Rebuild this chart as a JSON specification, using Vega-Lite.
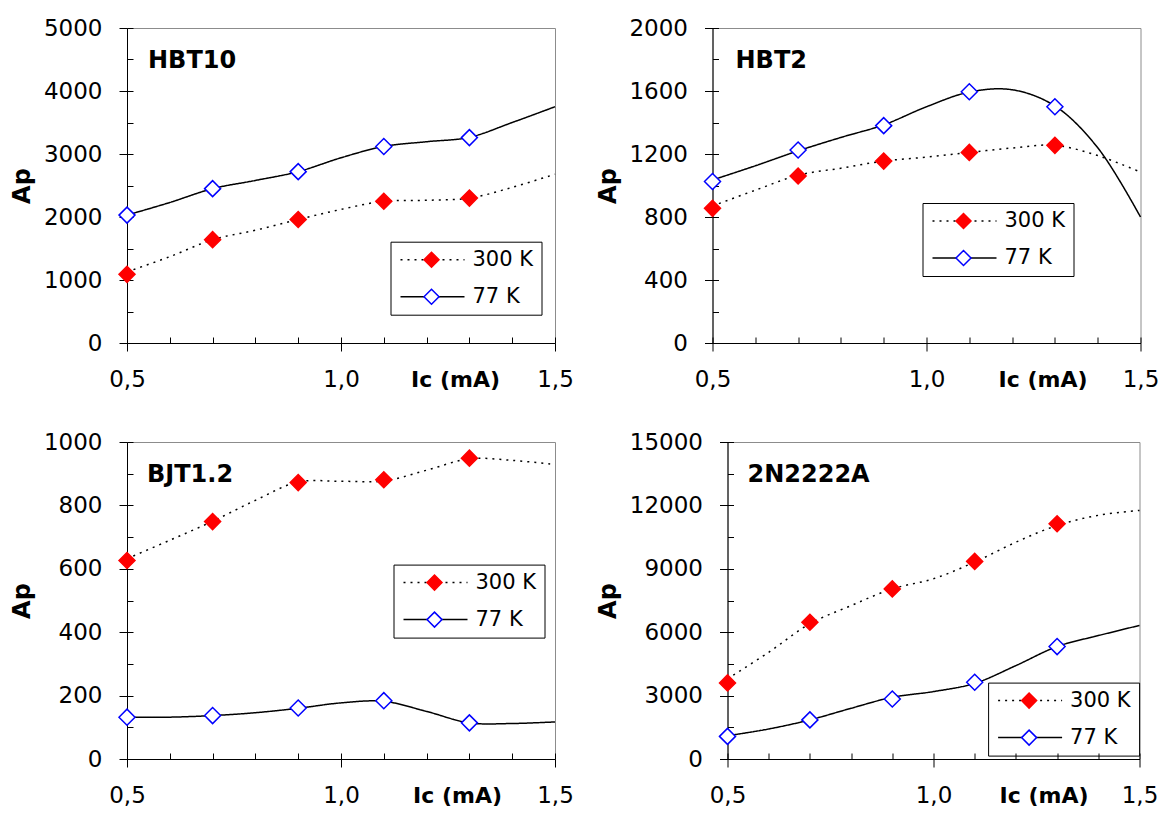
{
  "$schema": "https://vega.github.io/schema/vega-lite/v6.json",
  "background": "white",
  "padding": {"left": 10, "top": 16, "right": 5, "bottom": 5},
  "datasets": {
    "curves": [
      {"p":"HBT10","curve":"300 K","Ic":0.5,"Ap":1130},{"p":"HBT10","curve":"300 K","Ic":0.6,"Ap":1370},{"p":"HBT10","curve":"300 K","Ic":0.7,"Ap":1640},{"p":"HBT10","curve":"300 K","Ic":0.8,"Ap":1790},{"p":"HBT10","curve":"300 K","Ic":0.9,"Ap":1960},{"p":"HBT10","curve":"300 K","Ic":1.0,"Ap":2120},{"p":"HBT10","curve":"300 K","Ic":1.1,"Ap":2250},{"p":"HBT10","curve":"300 K","Ic":1.2,"Ap":2265},{"p":"HBT10","curve":"300 K","Ic":1.3,"Ap":2300},{"p":"HBT10","curve":"300 K","Ic":1.4,"Ap":2470},{"p":"HBT10","curve":"300 K","Ic":1.5,"Ap":2680},
      {"p":"HBT10","curve":"77 K","Ic":0.5,"Ap":2030},{"p":"HBT10","curve":"77 K","Ic":0.6,"Ap":2230},{"p":"HBT10","curve":"77 K","Ic":0.7,"Ap":2450},{"p":"HBT10","curve":"77 K","Ic":0.8,"Ap":2580},{"p":"HBT10","curve":"77 K","Ic":0.9,"Ap":2720},{"p":"HBT10","curve":"77 K","Ic":1.0,"Ap":2940},{"p":"HBT10","curve":"77 K","Ic":1.1,"Ap":3120},{"p":"HBT10","curve":"77 K","Ic":1.2,"Ap":3195},{"p":"HBT10","curve":"77 K","Ic":1.3,"Ap":3265},{"p":"HBT10","curve":"77 K","Ic":1.4,"Ap":3500},{"p":"HBT10","curve":"77 K","Ic":1.5,"Ap":3750},
      {"p":"HBT2","curve":"300 K","Ic":0.5,"Ap":870},{"p":"HBT2","curve":"300 K","Ic":0.6,"Ap":970},{"p":"HBT2","curve":"300 K","Ic":0.7,"Ap":1065},{"p":"HBT2","curve":"300 K","Ic":0.8,"Ap":1110},{"p":"HBT2","curve":"300 K","Ic":0.9,"Ap":1155},{"p":"HBT2","curve":"300 K","Ic":1.0,"Ap":1180},{"p":"HBT2","curve":"300 K","Ic":1.1,"Ap":1210},{"p":"HBT2","curve":"300 K","Ic":1.2,"Ap":1238},{"p":"HBT2","curve":"300 K","Ic":1.3,"Ap":1255},{"p":"HBT2","curve":"300 K","Ic":1.4,"Ap":1190},{"p":"HBT2","curve":"300 K","Ic":1.5,"Ap":1085},
      {"p":"HBT2","curve":"77 K","Ic":0.5,"Ap":1035},{"p":"HBT2","curve":"77 K","Ic":0.6,"Ap":1125},{"p":"HBT2","curve":"77 K","Ic":0.7,"Ap":1220},{"p":"HBT2","curve":"77 K","Ic":0.8,"Ap":1305},{"p":"HBT2","curve":"77 K","Ic":0.9,"Ap":1385},{"p":"HBT2","curve":"77 K","Ic":1.0,"Ap":1500},{"p":"HBT2","curve":"77 K","Ic":1.1,"Ap":1593},{"p":"HBT2","curve":"77 K","Ic":1.2,"Ap":1608},{"p":"HBT2","curve":"77 K","Ic":1.3,"Ap":1505},{"p":"HBT2","curve":"77 K","Ic":1.4,"Ap":1240},{"p":"HBT2","curve":"77 K","Ic":1.5,"Ap":800},
      {"p":"BJT1.2","curve":"300 K","Ic":0.5,"Ap":632},{"p":"BJT1.2","curve":"300 K","Ic":0.6,"Ap":690},{"p":"BJT1.2","curve":"300 K","Ic":0.7,"Ap":750},{"p":"BJT1.2","curve":"300 K","Ic":0.8,"Ap":816},{"p":"BJT1.2","curve":"300 K","Ic":0.9,"Ap":874},{"p":"BJT1.2","curve":"300 K","Ic":1.0,"Ap":876},{"p":"BJT1.2","curve":"300 K","Ic":1.1,"Ap":877},{"p":"BJT1.2","curve":"300 K","Ic":1.2,"Ap":911},{"p":"BJT1.2","curve":"300 K","Ic":1.3,"Ap":947},{"p":"BJT1.2","curve":"300 K","Ic":1.4,"Ap":942},{"p":"BJT1.2","curve":"300 K","Ic":1.5,"Ap":929},
      {"p":"BJT1.2","curve":"77 K","Ic":0.5,"Ap":132},{"p":"BJT1.2","curve":"77 K","Ic":0.6,"Ap":132},{"p":"BJT1.2","curve":"77 K","Ic":0.7,"Ap":137},{"p":"BJT1.2","curve":"77 K","Ic":0.8,"Ap":146},{"p":"BJT1.2","curve":"77 K","Ic":0.9,"Ap":160},{"p":"BJT1.2","curve":"77 K","Ic":1.0,"Ap":177},{"p":"BJT1.2","curve":"77 K","Ic":1.1,"Ap":182},{"p":"BJT1.2","curve":"77 K","Ic":1.2,"Ap":150},{"p":"BJT1.2","curve":"77 K","Ic":1.3,"Ap":114},{"p":"BJT1.2","curve":"77 K","Ic":1.4,"Ap":112},{"p":"BJT1.2","curve":"77 K","Ic":1.5,"Ap":117},
      {"p":"2N2222A","curve":"300 K","Ic":0.5,"Ap":3790},{"p":"2N2222A","curve":"300 K","Ic":0.6,"Ap":5050},{"p":"2N2222A","curve":"300 K","Ic":0.7,"Ap":6400},{"p":"2N2222A","curve":"300 K","Ic":0.8,"Ap":7260},{"p":"2N2222A","curve":"300 K","Ic":0.9,"Ap":8050},{"p":"2N2222A","curve":"300 K","Ic":1.0,"Ap":8530},{"p":"2N2222A","curve":"300 K","Ic":1.1,"Ap":9320},{"p":"2N2222A","curve":"300 K","Ic":1.2,"Ap":10260},{"p":"2N2222A","curve":"300 K","Ic":1.3,"Ap":11050},{"p":"2N2222A","curve":"300 K","Ic":1.4,"Ap":11530},{"p":"2N2222A","curve":"300 K","Ic":1.5,"Ap":11760},
      {"p":"2N2222A","curve":"77 K","Ic":0.5,"Ap":1100},{"p":"2N2222A","curve":"77 K","Ic":0.6,"Ap":1420},{"p":"2N2222A","curve":"77 K","Ic":0.7,"Ap":1850},{"p":"2N2222A","curve":"77 K","Ic":0.8,"Ap":2400},{"p":"2N2222A","curve":"77 K","Ic":0.9,"Ap":2920},{"p":"2N2222A","curve":"77 K","Ic":1.0,"Ap":3190},{"p":"2N2222A","curve":"77 K","Ic":1.1,"Ap":3580},{"p":"2N2222A","curve":"77 K","Ic":1.2,"Ap":4420},{"p":"2N2222A","curve":"77 K","Ic":1.3,"Ap":5320},{"p":"2N2222A","curve":"77 K","Ic":1.4,"Ap":5840},{"p":"2N2222A","curve":"77 K","Ic":1.5,"Ap":6320}
    ],
    "pts": [
      {"p":"HBT10","series":"300 K","Ic":0.5,"Ap":1090},{"p":"HBT10","series":"300 K","Ic":0.7,"Ap":1640},{"p":"HBT10","series":"300 K","Ic":0.9,"Ap":1960},{"p":"HBT10","series":"300 K","Ic":1.1,"Ap":2250},{"p":"HBT10","series":"300 K","Ic":1.3,"Ap":2300},
      {"p":"HBT10","series":"77 K","Ic":0.5,"Ap":2030},{"p":"HBT10","series":"77 K","Ic":0.7,"Ap":2450},{"p":"HBT10","series":"77 K","Ic":0.9,"Ap":2720},{"p":"HBT10","series":"77 K","Ic":1.1,"Ap":3120},{"p":"HBT10","series":"77 K","Ic":1.3,"Ap":3260},
      {"p":"HBT2","series":"300 K","Ic":0.5,"Ap":855},{"p":"HBT2","series":"300 K","Ic":0.7,"Ap":1060},{"p":"HBT2","series":"300 K","Ic":0.9,"Ap":1155},{"p":"HBT2","series":"300 K","Ic":1.1,"Ap":1210},{"p":"HBT2","series":"300 K","Ic":1.3,"Ap":1255},
      {"p":"HBT2","series":"77 K","Ic":0.5,"Ap":1025},{"p":"HBT2","series":"77 K","Ic":0.7,"Ap":1225},{"p":"HBT2","series":"77 K","Ic":0.9,"Ap":1380},{"p":"HBT2","series":"77 K","Ic":1.1,"Ap":1595},{"p":"HBT2","series":"77 K","Ic":1.3,"Ap":1500},
      {"p":"BJT1.2","series":"300 K","Ic":0.5,"Ap":626},{"p":"BJT1.2","series":"300 K","Ic":0.7,"Ap":749},{"p":"BJT1.2","series":"300 K","Ic":0.9,"Ap":872},{"p":"BJT1.2","series":"300 K","Ic":1.1,"Ap":881},{"p":"BJT1.2","series":"300 K","Ic":1.3,"Ap":949},
      {"p":"BJT1.2","series":"77 K","Ic":0.5,"Ap":132},{"p":"BJT1.2","series":"77 K","Ic":0.7,"Ap":137},{"p":"BJT1.2","series":"77 K","Ic":0.9,"Ap":161},{"p":"BJT1.2","series":"77 K","Ic":1.1,"Ap":184},{"p":"BJT1.2","series":"77 K","Ic":1.3,"Ap":114},
      {"p":"2N2222A","series":"300 K","Ic":0.5,"Ap":3600},{"p":"2N2222A","series":"300 K","Ic":0.7,"Ap":6470},{"p":"2N2222A","series":"300 K","Ic":0.9,"Ap":8050},{"p":"2N2222A","series":"300 K","Ic":1.1,"Ap":9350},{"p":"2N2222A","series":"300 K","Ic":1.3,"Ap":11130},
      {"p":"2N2222A","series":"77 K","Ic":0.5,"Ap":1070},{"p":"2N2222A","series":"77 K","Ic":0.7,"Ap":1850},{"p":"2N2222A","series":"77 K","Ic":0.9,"Ap":2840},{"p":"2N2222A","series":"77 K","Ic":1.1,"Ap":3630},{"p":"2N2222A","series":"77 K","Ic":1.3,"Ap":5320}
    ]
  },
  "columns": 2,
  "align": {"row": "all", "column": "none"},
  "spacing": {"row": 36, "column": 21.5},
  "resolve": {"scale": {"strokeDash": "independent", "shape": "independent", "fill": "independent", "stroke": "independent"}},
  "concat": [
    {
      "width": 428, "height": 315,
      "title": {"text": "HBT10", "anchor": "start", "frame": "group", "offset": 0, "dx": 21, "dy": 75, "baseline": "alphabetic", "fontSize": 24, "fontWeight": "bold", "font": "DejaVu Sans", "color": "black"},
      "resolve": {"axis": {"x": "independent", "y": "independent"}},
      "layer": [
        {
          "data": {"name": "curves"},
          "transform": [{"filter": "datum.p == 'HBT10'"}],
          "mark": {"type": "line", "interpolate": "catmull-rom", "color": "black", "strokeWidth": 1.5},
          "encoding": {
            "x": {"field": "Ic", "type": "quantitative", "scale": {"domain": [0.5, 1.5], "nice": false, "zero": false},
              "axis": {"values": [0.5, 1.0, 1.5], "labelExpr": "replace(format(datum.value, '.1f'), '.', ',')", "tickSize": 8, "labelPadding": 17, "labelFlush": false, "labelOverlap": false, "title": "Ic (mA)", "titleX": 328, "titleY": 43, "titleAlign": "center", "titleBaseline": "alphabetic", "titleFontSize": 22, "titleFontWeight": "bold"}},
            "y": {"field": "Ap", "type": "quantitative", "scale": {"domain": [0, 5000], "nice": false},
              "axis": {"values": [0, 1000, 2000, 3000, 4000, 5000], "format": "d", "tickSize": 8, "labelPadding": 17, "labelOverlap": false, "title": "Ap", "titleFontSize": 24, "titleFontWeight": "bold", "titlePadding": 8.5}},
            "strokeDash": {"field": "curve", "type": "nominal", "scale": {"range": [[2, 5], [1, 0]]},
              "legend": {"orient": "none", "legendX": 263.5, "legendY": 213.7, "title": null, "symbolType": "M-1,0H7", "symbolSize": 256, "symbolStrokeWidth": 1.5, "symbolStrokeColor": "black", "strokeColor": "black", "padding": 7.5, "labelOffset": 53.5}}
          }
        },
        {
          "data": {"name": "pts"},
          "transform": [{"filter": "datum.p == 'HBT10'"}],
          "mark": {"type": "point", "filled": true, "size": 256, "strokeWidth": 1.5, "opacity": 1},
          "encoding": {
            "x": {"field": "Ic", "type": "quantitative", "axis": {"orient": "bottom", "values": [0.5, 0.6, 0.7, 0.8, 0.9, 1.0, 1.1, 1.2, 1.3, 1.4, 1.5], "labels": false, "domain": false, "title": null, "tickSize": -6}},
            "y": {"field": "Ap", "type": "quantitative", "axis": {"orient": "left", "values": [0, 500, 1000, 1500, 2000, 2500, 3000, 3500, 4000, 4500, 5000], "labels": false, "domain": false, "title": null, "tickSize": -6}},
            "shape": {"field": "series", "type": "nominal", "scale": {"range": ["diamond", "diamond"]},
              "legend": {"orient": "none", "legendX": 296, "legendY": 223.2, "title": null, "padding": 0, "labelExpr": "''", "labelFontSize": 1, "labelOpacity": 0, "rowPadding": 16, "symbolSize": 225, "symbolStrokeWidth": 1.5, "symbolOpacity": 1, "labelOffset": 1}},
            "fill": {"field": "series", "type": "nominal", "scale": {"range": ["#ff0000", "#ffffff"]}},
            "stroke": {"field": "series", "type": "nominal", "scale": {"range": ["#ff0000", "#0000ff"]}}
          }
        }
      ]
    },
    {
      "width": 428, "height": 315,
      "title": {"text": "HBT2", "anchor": "start", "frame": "group", "offset": 0, "dx": 23, "dy": 75, "baseline": "alphabetic", "fontSize": 24, "fontWeight": "bold", "font": "DejaVu Sans", "color": "black"},
      "resolve": {"axis": {"x": "independent", "y": "independent"}},
      "layer": [
        {
          "data": {"name": "curves"},
          "transform": [{"filter": "datum.p == 'HBT2'"}],
          "mark": {"type": "line", "interpolate": "catmull-rom", "color": "black", "strokeWidth": 1.5},
          "encoding": {
            "x": {"field": "Ic", "type": "quantitative", "scale": {"domain": [0.5, 1.5], "nice": false, "zero": false},
              "axis": {"values": [0.5, 1.0, 1.5], "labelExpr": "replace(format(datum.value, '.1f'), '.', ',')", "tickSize": 8, "labelPadding": 17, "labelFlush": false, "labelOverlap": false, "title": "Ic (mA)", "titleX": 330, "titleY": 43, "titleAlign": "center", "titleBaseline": "alphabetic", "titleFontSize": 22, "titleFontWeight": "bold"}},
            "y": {"field": "Ap", "type": "quantitative", "scale": {"domain": [0, 2000], "nice": false},
              "axis": {"values": [0, 400, 800, 1200, 1600, 2000], "format": "d", "tickSize": 8, "labelPadding": 17, "labelOverlap": false, "title": "Ap", "titleFontSize": 24, "titleFontWeight": "bold", "titlePadding": 8.5}},
            "strokeDash": {"field": "curve", "type": "nominal", "scale": {"range": [[2, 5], [1, 0]]},
              "legend": {"orient": "none", "legendX": 210, "legendY": 175, "title": null, "symbolType": "M-1,0H7", "symbolSize": 256, "symbolStrokeWidth": 1.5, "symbolStrokeColor": "black", "strokeColor": "black", "padding": 7.5, "labelOffset": 53.5}}
          }
        },
        {
          "data": {"name": "pts"},
          "transform": [{"filter": "datum.p == 'HBT2'"}],
          "mark": {"type": "point", "filled": true, "size": 256, "strokeWidth": 1.5, "opacity": 1},
          "encoding": {
            "x": {"field": "Ic", "type": "quantitative", "axis": {"orient": "bottom", "values": [0.5, 0.6, 0.7, 0.8, 0.9, 1.0, 1.1, 1.2, 1.3, 1.4, 1.5], "labels": false, "domain": false, "title": null, "tickSize": -6}},
            "y": {"field": "Ap", "type": "quantitative", "axis": {"orient": "left", "values": [0, 200, 400, 600, 800, 1000, 1200, 1400, 1600, 1800, 2000], "labels": false, "domain": false, "title": null, "tickSize": -6}},
            "shape": {"field": "series", "type": "nominal", "scale": {"range": ["diamond", "diamond"]},
              "legend": {"orient": "none", "legendX": 242.5, "legendY": 184.5, "title": null, "padding": 0, "labelExpr": "''", "labelFontSize": 1, "labelOpacity": 0, "rowPadding": 16, "symbolSize": 225, "symbolStrokeWidth": 1.5, "symbolOpacity": 1, "labelOffset": 1}},
            "fill": {"field": "series", "type": "nominal", "scale": {"range": ["#ff0000", "#ffffff"]}},
            "stroke": {"field": "series", "type": "nominal", "scale": {"range": ["#ff0000", "#0000ff"]}}
          }
        }
      ]
    },
    {
      "width": 428, "height": 317,
      "title": {"text": "BJT1.2", "anchor": "start", "frame": "group", "offset": 0, "dx": 20, "dy": 75, "baseline": "alphabetic", "fontSize": 24, "fontWeight": "bold", "font": "DejaVu Sans", "color": "black"},
      "resolve": {"axis": {"x": "independent", "y": "independent"}},
      "layer": [
        {
          "data": {"name": "curves"},
          "transform": [{"filter": "datum.p == 'BJT1.2'"}],
          "mark": {"type": "line", "interpolate": "catmull-rom", "color": "black", "strokeWidth": 1.5},
          "encoding": {
            "x": {"field": "Ic", "type": "quantitative", "scale": {"domain": [0.5, 1.5], "nice": false, "zero": false},
              "axis": {"values": [0.5, 1.0, 1.5], "labelExpr": "replace(format(datum.value, '.1f'), '.', ',')", "tickSize": 8, "labelPadding": 17, "labelFlush": false, "labelOverlap": false, "title": "Ic (mA)", "titleX": 330, "titleY": 43, "titleAlign": "center", "titleBaseline": "alphabetic", "titleFontSize": 22, "titleFontWeight": "bold"}},
            "y": {"field": "Ap", "type": "quantitative", "scale": {"domain": [0, 1000], "nice": false},
              "axis": {"values": [0, 200, 400, 600, 800, 1000], "format": "d", "tickSize": 8, "labelPadding": 17, "labelOverlap": false, "title": "Ap", "titleFontSize": 24, "titleFontWeight": "bold", "titlePadding": 8.5}},
            "strokeDash": {"field": "curve", "type": "nominal", "scale": {"range": [[2, 5], [1, 0]]},
              "legend": {"orient": "none", "legendX": 266.5, "legendY": 122.6, "title": null, "symbolType": "M-1,0H7", "symbolSize": 256, "symbolStrokeWidth": 1.5, "symbolStrokeColor": "black", "strokeColor": "black", "padding": 7.5, "labelOffset": 53.5}}
          }
        },
        {
          "data": {"name": "pts"},
          "transform": [{"filter": "datum.p == 'BJT1.2'"}],
          "mark": {"type": "point", "filled": true, "size": 256, "strokeWidth": 1.5, "opacity": 1},
          "encoding": {
            "x": {"field": "Ic", "type": "quantitative", "axis": {"orient": "bottom", "values": [0.5, 0.6, 0.7, 0.8, 0.9, 1.0, 1.1, 1.2, 1.3, 1.4, 1.5], "labels": false, "domain": false, "title": null, "tickSize": -6}},
            "y": {"field": "Ap", "type": "quantitative", "axis": {"orient": "left", "values": [0, 100, 200, 300, 400, 500, 600, 700, 800, 900, 1000], "labels": false, "domain": false, "title": null, "tickSize": -6}},
            "shape": {"field": "series", "type": "nominal", "scale": {"range": ["diamond", "diamond"]},
              "legend": {"orient": "none", "legendX": 299, "legendY": 132.1, "title": null, "padding": 0, "labelExpr": "''", "labelFontSize": 1, "labelOpacity": 0, "rowPadding": 16, "symbolSize": 225, "symbolStrokeWidth": 1.5, "symbolOpacity": 1, "labelOffset": 1}},
            "fill": {"field": "series", "type": "nominal", "scale": {"range": ["#ff0000", "#ffffff"]}},
            "stroke": {"field": "series", "type": "nominal", "scale": {"range": ["#ff0000", "#0000ff"]}}
          }
        }
      ]
    },
    {
      "width": 412, "height": 317,
      "title": {"text": "2N2222A", "anchor": "start", "frame": "group", "offset": 0, "dx": 20, "dy": 75, "baseline": "alphabetic", "fontSize": 24, "fontWeight": "bold", "font": "DejaVu Sans", "color": "black"},
      "resolve": {"axis": {"x": "independent", "y": "independent"}},
      "layer": [
        {
          "data": {"name": "curves"},
          "transform": [{"filter": "datum.p == '2N2222A'"}],
          "mark": {"type": "line", "interpolate": "catmull-rom", "color": "black", "strokeWidth": 1.5},
          "encoding": {
            "x": {"field": "Ic", "type": "quantitative", "scale": {"domain": [0.5, 1.5], "nice": false, "zero": false},
              "axis": {"values": [0.5, 1.0, 1.5], "labelExpr": "replace(format(datum.value, '.1f'), '.', ',')", "tickSize": 8, "labelPadding": 17, "labelFlush": false, "labelOverlap": false, "title": "Ic (mA)", "titleX": 316, "titleY": 43, "titleAlign": "center", "titleBaseline": "alphabetic", "titleFontSize": 22, "titleFontWeight": "bold"}},
            "y": {"field": "Ap", "type": "quantitative", "scale": {"domain": [0, 15000], "nice": false},
              "axis": {"values": [0, 3000, 6000, 9000, 12000, 15000], "format": "d", "tickSize": 8, "labelPadding": 17, "labelOverlap": false, "title": "Ap", "titleFontSize": 24, "titleFontWeight": "bold", "titlePadding": 8.5}},
            "strokeDash": {"field": "curve", "type": "nominal", "scale": {"range": [[2, 5], [1, 0]]},
              "legend": {"orient": "none", "legendX": 260.6, "legendY": 240.6, "title": null, "symbolType": "M-1,0H7", "symbolSize": 256, "symbolStrokeWidth": 1.5, "symbolStrokeColor": "black", "strokeColor": "black", "padding": 7.5, "labelOffset": 53.5}}
          }
        },
        {
          "data": {"name": "pts"},
          "transform": [{"filter": "datum.p == '2N2222A'"}],
          "mark": {"type": "point", "filled": true, "size": 256, "strokeWidth": 1.5, "opacity": 1},
          "encoding": {
            "x": {"field": "Ic", "type": "quantitative", "axis": {"orient": "bottom", "values": [0.5, 0.6, 0.7, 0.8, 0.9, 1.0, 1.1, 1.2, 1.3, 1.4, 1.5], "labels": false, "domain": false, "title": null, "tickSize": -6}},
            "y": {"field": "Ap", "type": "quantitative", "axis": {"orient": "left", "values": [0, 1500, 3000, 4500, 6000, 7500, 9000, 10500, 12000, 13500, 15000], "labels": false, "domain": false, "title": null, "tickSize": -6}},
            "shape": {"field": "series", "type": "nominal", "scale": {"range": ["diamond", "diamond"]},
              "legend": {"orient": "none", "legendX": 293.1, "legendY": 250.1, "title": null, "padding": 0, "labelExpr": "''", "labelFontSize": 1, "labelOpacity": 0, "rowPadding": 16, "symbolSize": 225, "symbolStrokeWidth": 1.5, "symbolOpacity": 1, "labelOffset": 1}},
            "fill": {"field": "series", "type": "nominal", "scale": {"range": ["#ff0000", "#ffffff"]}},
            "stroke": {"field": "series", "type": "nominal", "scale": {"range": ["#ff0000", "#0000ff"]}}
          }
        }
      ]
    }
  ],
  "config": {
    "font": "DejaVu Sans",
    "view": {"stroke": "#8c8c8c", "strokeWidth": 1},
    "axis": {"labelFont": "DejaVu Sans", "titleFont": "DejaVu Sans", "labelFontSize": 23, "labelColor": "black", "titleColor": "black", "tickColor": "black", "domainColor": "black", "tickWidth": 1, "domainWidth": 1, "grid": false},
    "legend": {"labelFont": "DejaVu Sans", "labelFontSize": 21, "labelColor": "black", "rowPadding": 15, "labelLimit": 200}
  }
}
